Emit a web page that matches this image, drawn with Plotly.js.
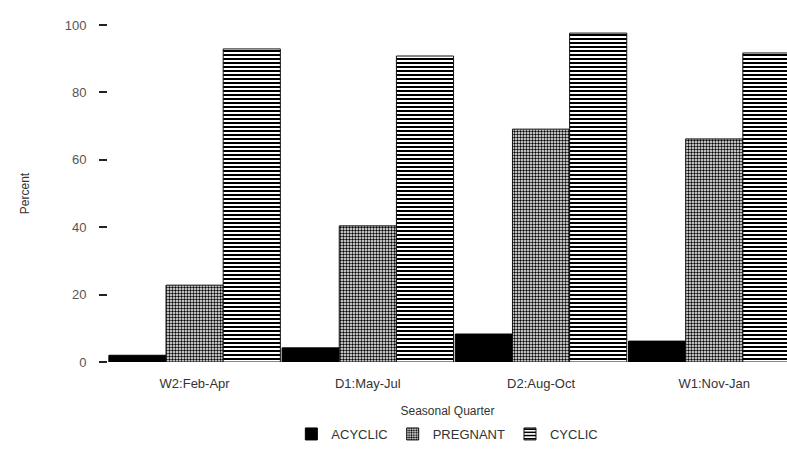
<!DOCTYPE html>
<html>
<head>
<meta charset="utf-8">
<script src="https://cdn.plot.ly/plotly-3.0.1.min.js"></script>
<style>html,body{margin:0;padding:0;background:#fff;}#chart{width:787px;height:449px;}</style>
</head>
<body>
<div id="chart"></div>
<script>
const categories = ["W2:Feb-Apr", "D1:May-Jul", "D2:Aug-Oct", "W1:Nov-Jan"];
const acyclic = [2, 4.2, 8.3, 6.2];
const pregnant = [22.8, 40.4, 69.1, 66.2];
const cyclic = [92.9, 90.8, 97.6, 91.7];
const yTicks = [0, 20, 40, 60, 80, 100];

const font = {family: "Liberation Sans, Arial, sans-serif", size: 13, color: "#333"};

const traces = [
  {type: "bar", name: "ACYCLIC", x: categories, y: acyclic,
   marker: {color: "#000", line: {color: "#000", width: 1}}},
  {type: "bar", name: "PREGNANT", x: categories, y: pregnant,
   marker: {color: "#fff", line: {color: "#111", width: 1},
            pattern: {shape: ".", fgcolor: "#000", bgcolor: "#fff", size: 3, solidity: 0.5}}},
  {type: "bar", name: "CYCLIC", x: categories, y: cyclic,
   marker: {color: "#fff", line: {color: "#111", width: 1},
            pattern: {shape: "-", fgcolor: "#000", bgcolor: "#fff", size: 4, solidity: 0.5}}}
];

const layout = {
  width: 787, height: 449,
  margin: {l: 108, r: 0, t: 25, b: 87},
  paper_bgcolor: "#fff", plot_bgcolor: "#fff",
  font: font,
  barmode: "group", bargap: 0.01, bargroupgap: 0,
  showlegend: true,
  legend: {orientation: "h", x: 0.27, xanchor: "left", y: -0.215, yanchor: "middle",
           font: {family: font.family, size: 13, color: "#333"}, itemwidth: 30, tracegroupgap: 0},
  xaxis: {
    range: [-0.5, 3.42], showline: false, showgrid: false, zeroline: false, ticks: "",
    automargin: false,
    ticklabelstandoff: 12,
    tickfont: {family: font.family, size: 13, color: "#333"},
    title: {text: "Seasonal Quarter", font: {family: font.family, size: 12, color: "#333"}, standoff: 16}
  },
  yaxis: {
    range: [0, 100], tickvals: yTicks, ticktext: yTicks.map(String),
    showline: false, showgrid: false, zeroline: false,
    automargin: false,
    ticks: "outside", ticklen: 8, tickcolor: "#222", tickwidth: 2,
    ticklabelstandoff: 10,
    tickfont: {family: font.family, size: 13, color: "#555"},
    title: {text: "Percent", font: {family: font.family, size: 12, color: "#333"}, standoff: 32}
  }
};

Plotly.newPlot("chart", traces, layout, {displayModeBar: false, staticPlot: true});
</script>
</body>
</html>
